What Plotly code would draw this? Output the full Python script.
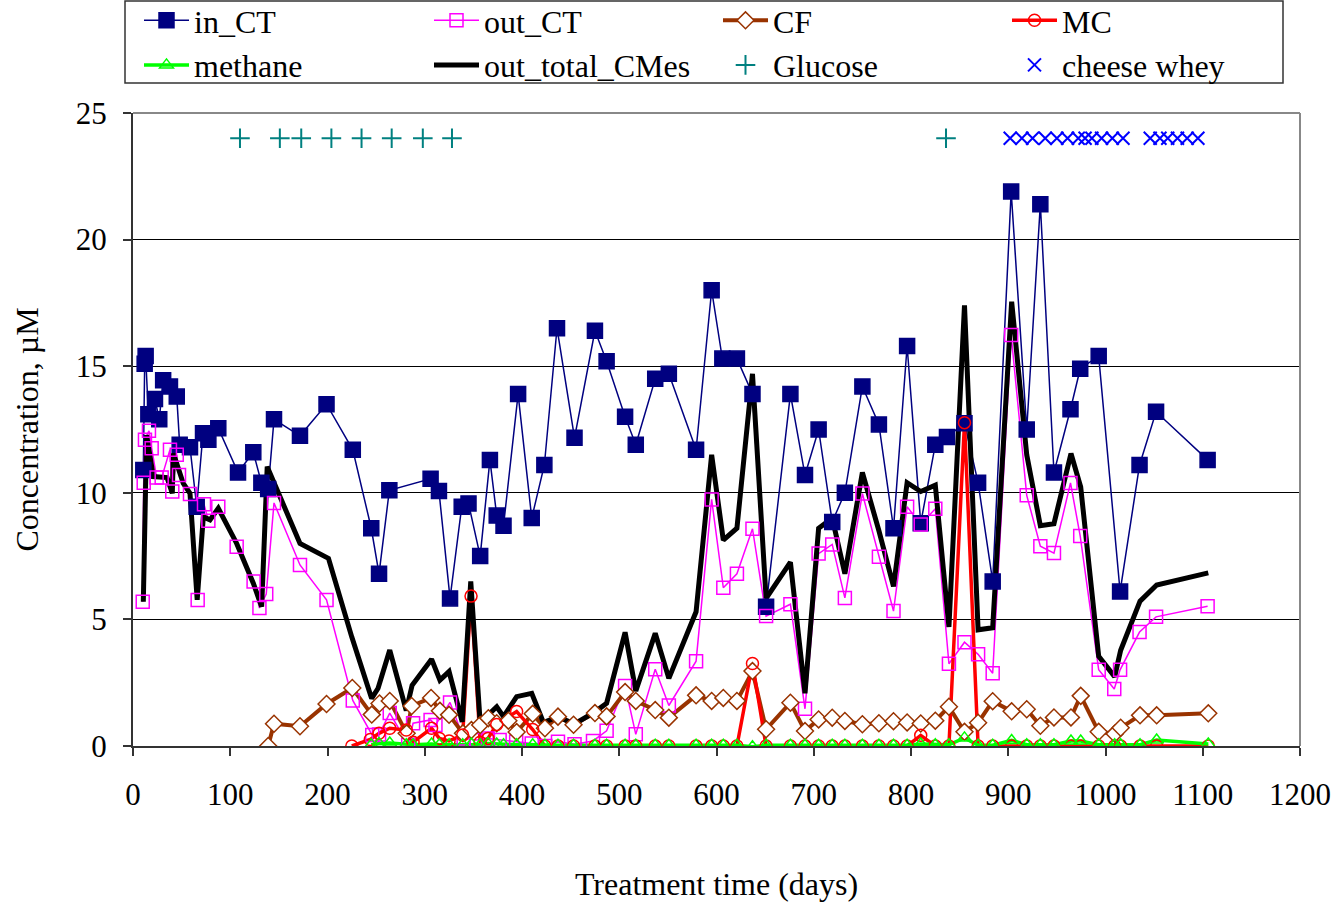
import plotly.graph_objects as go

# ---------------- data ----------------
in_ct_days = [10.6, 12, 13, 15.8, 22.6, 27, 31, 38, 45, 48, 58.6, 65.5, 72, 77.5, 87.7, 108, 123.7, 132, 139, 145,
              171.7, 199, 226, 245, 253, 263.6, 306, 314.6, 326, 338, 345, 357, 367, 374, 381, 396, 410, 423, 436,
              454, 475, 487, 506, 517, 537, 551, 579, 595, 606, 621, 637, 651, 676, 691, 705, 719, 732, 750, 767,
              782, 796, 810, 825, 837, 855, 869, 884, 903, 919, 933, 947, 964, 974, 993, 1015, 1035, 1052, 1105]
in_ct_vals = [10.9, 15.1, 15.4, 13.1, 13.7, 12.9, 14.45, 14.2, 13.8, 11.9, 11.8, 9.45, 12.35, 12.1, 12.55, 10.8, 11.6,
              10.4, 10.15, 12.9, 12.25, 13.5, 11.7, 8.6, 6.8, 10.1, 10.55, 10.07, 5.83, 9.45, 9.58, 7.5, 11.3, 9.1,
              8.7, 13.9, 9.0, 11.1, 16.5, 12.17, 16.4, 15.2, 13.0, 11.9, 14.5, 14.7, 11.7, 18.0, 15.3, 15.3, 13.9,
              5.5, 13.9, 10.7, 12.5, 8.85, 10.0, 14.2, 12.7, 8.6, 15.8, 8.8, 11.9, 12.2, 12.75, 10.4, 6.5, 21.9,
              12.5, 21.4, 10.8, 13.3, 14.9, 15.4, 6.1, 11.1, 13.2, 11.3]

out_ct_days = [10, 11, 12.3, 16.4, 19.2, 24.3, 29.5, 38, 40.4, 45, 47.3, 58.6, 66.5, 73, 77.5, 87.7, 106.6, 124, 130,
               137, 145, 171.7, 199, 226, 246, 253, 264, 283, 288, 306, 311, 326, 340, 353, 365, 377, 394, 410, 424,
               437, 454, 473, 487, 506, 517, 537, 551, 579, 595, 607, 621, 637, 651, 676, 691, 705, 719, 732, 750,
               767, 782, 796, 810, 825, 839, 855, 869, 884, 903, 919, 933, 947, 964, 974, 993, 1009, 1015, 1035,
               1052, 1105]
out_ct_vals = [5.7, 10.4, 12.1, 12.45, 11.76, 10.6, 10.6, 11.7, 10.05, 11.5, 10.7, 9.95, 5.77, 9.55, 8.9, 9.45, 7.87,
               6.5, 5.45, 6.0, 9.6, 7.15, 5.77, 1.8, 0.43, 0.45, 1.3, 0.05, 0.9, 1.03, 0.83, 1.72, 0.3, 0.24, 0.3,
               0.24, 0.17, 0.1, 0.0, 0.17, 0.07, 0.2, 0.6, 2.37, 0.46, 3.03, 1.6, 3.35, 9.74, 6.25, 6.8, 8.58, 5.13,
               5.6, 1.47, 7.6, 7.96, 5.85, 9.97, 7.47, 5.33, 9.45, 8.75, 9.37, 3.25, 4.1, 3.62, 2.87, 16.23, 9.9,
               7.89, 7.62, 10.39, 8.29, 3.01, 2.25, 3.01, 4.5, 5.1, 5.52]

cf_days = [139, 145, 171.7, 199, 225.5, 245.5, 253.5, 264, 281.4, 286.5, 306.5, 315.6, 325, 339.3, 348, 357, 365.4,
           374, 386, 394.5, 411, 423.6, 437, 453, 475, 487, 506, 517, 537, 551, 579, 595, 607, 621, 637, 651, 676,
           691, 705, 719, 732, 750, 767, 782, 796, 810, 825, 839, 855, 869, 884, 903.5, 919, 933, 947, 964.5, 974.5,
           993, 1009.4, 1015.6, 1035.5, 1052.6, 1105.7]
cf_vals = [0.0, 0.88, 0.78, 1.66, 2.29, 1.24, 1.68, 1.78, 0.5, 1.58, 1.9, 1.39, 1.23, 0.5, 0.63, 0.83, 1.1, 0.9, 1.0,
           0.55, 1.27, 0.7, 1.16, 0.84, 1.3, 1.17, 2.13, 1.78, 1.42, 1.12, 2.0, 1.78, 1.9, 1.78, 2.96, 0.66, 1.71,
           0.59, 1.05, 1.12, 0.99, 0.86, 0.9, 0.98, 0.93, 0.89, 1.0, 1.55, 0.56, 0.92, 1.77, 1.37, 1.45, 0.8, 1.13,
           1.13, 1.98, 0.56, 0.48, 0.72, 1.21, 1.21, 1.29]

mc_days = [225, 244, 253, 264, 281, 288, 307, 315, 325, 339, 347.6, 357, 365, 374, 394.5, 411, 423.6, 437, 453, 475,
           487, 506, 517, 537, 551, 579, 595, 607, 621, 637, 651, 676, 691, 705, 719, 732, 750, 767, 782, 796, 810,
           825, 839, 855, 869, 884, 903.5, 919, 933, 947, 964.5, 974.5, 993, 1009.4, 1015.6, 1035.5, 1052.6, 1105.7]
mc_vals = [0.0, 0.26, 0.5, 0.7, 0.63, 0.15, 0.7, 0.3, 0.2, 0.43, 5.92, 0.15, 0.3, 0.85, 1.36, 0.65, 0.0, 0.0, 0.0,
           0.0, 0.0, 0.0, 0.0, 0.0, 0.0, 0.0, 0.0, 0.0, 0.0, 3.26, 0.0, 0.0, 0.0, 0.0, 0.0, 0.0, 0.0, 0.0, 0.0, 0.0,
           0.42, 0.0, 0.0, 12.77, 0.0, 0.0, 0.0, 0.0, 0.0, 0.0, 0.0, 0.0, 0.0, 0.0, 0.0, 0.0, 0.0, 0.0]

methane_days = [245, 253, 264, 281, 288, 307, 315, 325, 339, 348, 357, 365, 374, 381, 394.5, 411, 423.6, 437, 453,
                475, 487, 506, 517, 537, 551, 579, 595, 607, 621, 637, 651, 676, 691, 705, 719, 732, 750, 767, 782,
                796, 810, 825, 839, 855, 869, 884, 903.5, 919, 933, 947, 964.5, 974.5, 993, 1009.4, 1015.6, 1035.5,
                1052.6, 1105.7]
methane_vals = [0.05, 0.1, 0.12, 0.05, 0.05, 0.08, 0.05, 0.05, 0.05, 0.08, 0.05, 0.1, 0.08, 0.05, 0.05, 0.05, 0.03,
                0.03, 0.03, 0.03, 0.03, 0.03, 0.03, 0.03, 0.03, 0.03, 0.03, 0.03, 0.03, -0.03, 0.03, 0.03, 0.03, 0.03,
                0.03, 0.03, 0.03, 0.03, 0.03, 0.03, 0.08, 0.05, 0.05, 0.32, 0.03, 0.03, 0.22, 0.05, 0.05, 0.05, 0.2,
                0.2, 0.05, 0.05, 0.05, 0.05, 0.24, 0.08]

total_days = [10.6, 14, 20.9, 27.7, 35, 40.4, 41.5, 51.7, 58.6, 66, 72.3, 79.2, 87.7, 106.6, 123.7, 132.3, 138,
              171.7, 201, 225, 245.4, 252, 264, 281, 287, 307, 315.6, 325, 338.5, 347.3, 356.8, 367, 374, 381,
              394.5, 410, 422, 437, 454, 475, 487, 506, 517, 537, 551, 579, 595, 607, 621, 637, 651, 676, 691, 705,
              719, 732, 750, 767, 782, 796, 810, 825, 839, 855, 869, 884, 903.5, 919, 933, 947, 964.5, 974.5, 993,
              1009.4, 1015.6, 1035.5, 1052.6, 1105.7]
total_vals = [5.7, 12.28, 10.64, 10.64, 10.6, 9.98, 11.56, 10.37, 9.98, 5.77, 9.05, 8.93, 9.39, 8.0, 6.43, 5.5, 11.03,
              8.0, 7.41, 4.3, 1.88, 2.28, 3.79, 1.4, 2.4, 3.43, 2.6, 2.94, 0.95, 6.5, 1.03, 1.29, 1.55, 1.16, 1.95,
              2.08, 0.93, 1.16, 0.87, 1.35, 1.69, 4.49, 2.17, 4.45, 2.67, 5.3, 11.5, 8.13, 8.6, 14.7, 5.83, 7.26,
              2.08, 8.6, 9.0, 6.8, 10.8, 8.5, 6.3, 10.4, 10.05, 10.3, 4.7, 17.4, 4.59, 4.67, 17.55, 11.5, 8.7, 8.78,
              11.55, 10.23, 3.54, 2.74, 3.78, 5.72, 6.36, 6.84]

glucose_days = [110, 151, 173, 204, 235, 266, 298, 328, 836]
glucose_level = 24
whey_days = [902, 914, 925, 938, 950, 961, 972, 979, 986, 996, 1007, 1018, 1046, 1056, 1064, 1074, 1084, 1095]
whey_level = 24

x_ticks = [0, 100, 200, 300, 400, 500, 600, 700, 800, 900, 1000, 1100, 1200]
y_ticks = [0, 5, 10, 15, 20, 25]

# ---------------- styles ----------------
FONT = "Liberation Serif"
series = [
    # name, days, vals, color, line width, symbol, msize, fill, legend
    ("in_CT", in_ct_days, in_ct_vals, "#000080", 1.5, "square", 15, "#000080", "legend"),
    ("out_CT", out_ct_days, out_ct_vals, "#FF00FF", 1.5, "square-open", 13, None, "legend2"),
    ("CF", cf_days, cf_vals, "#993300", 4, "diamond", 13, "white", "legend3"),
    ("MC", mc_days, mc_vals, "#FF0000", 3.5, "circle", 12, "rgba(0,0,0,0)", "legend4"),
    ("methane", methane_days, methane_vals, "#00FF00", 3.5, "triangle-up", 12, "rgba(0,0,0,0)", "legend"),
]

fig = go.Figure()

# lines first (all lines below all markers)
for name, d, v, col, lw, sym, ms, fill, lg in series:
    fig.add_trace(go.Scatter(x=d, y=v, mode="lines", line=dict(color=col, width=lw),
                             showlegend=False, hoverinfo="skip"))
fig.add_trace(go.Scatter(x=total_days, y=total_vals, mode="lines",
                         line=dict(color="black", width=5), showlegend=False))

for name, d, v, col, lw, sym, ms, fill, lg in series:
    if fill is None:
        mk = dict(symbol=sym, size=ms, color=col, line=dict(color=col, width=1.5))
    else:
        mk = dict(symbol=sym, size=ms, color=fill, line=dict(color=col, width=1.5))
    fig.add_trace(go.Scatter(x=d, y=v, mode="markers", marker=mk, showlegend=False))

fig.add_trace(go.Scatter(x=glucose_days, y=[glucose_level] * len(glucose_days), mode="markers",
                         marker=dict(symbol="cross-thin", size=14, line=dict(color="#008080", width=2)),
                         showlegend=False))
fig.add_trace(go.Scatter(x=whey_days, y=[whey_level] * len(whey_days), mode="markers",
                         marker=dict(symbol="x-thin", size=13, line=dict(color="#0000FF", width=2)),
                         showlegend=False))

# legend dummies
def legend_entry(name, col, lw, sym, ms, fill, lg, mode="lines+markers"):
    if fill is None:
        mk = dict(symbol=sym, size=ms, color=col, line=dict(color=col, width=1.5))
    else:
        mk = dict(symbol=sym, size=ms, color=fill, line=dict(color=col, width=1.5))
    fig.add_trace(go.Scatter(x=[None], y=[None], name=name, mode=mode,
                             line=dict(color=col, width=lw), marker=mk, legend=lg, legendgroup=name))

s = {x[0]: x for x in series}
legend_entry("in_CT", *s["in_CT"][3:])
legend_entry("methane", *s["methane"][3:])
legend_entry("out_CT", *s["out_CT"][3:])
fig.add_trace(go.Scatter(x=[None], y=[None], name="out_total_CMes", mode="lines",
                         line=dict(color="black", width=5), legend="legend2", legendgroup="tot"))
legend_entry("CF", *s["CF"][3:])
fig.add_trace(go.Scatter(x=[None], y=[None], name="Glucose", mode="markers",
                         marker=dict(symbol="cross-thin", size=14, line=dict(color="#008080", width=2)),
                         legend="legend3", legendgroup="glu"))
legend_entry("MC", *s["MC"][3:])
fig.add_trace(go.Scatter(x=[None], y=[None], name="cheese whey", mode="markers",
                         marker=dict(symbol="x-thin", size=13, line=dict(color="#0000FF", width=2)),
                         legend="legend4", legendgroup="whey"))

W, H = 1339, 906
L, R, T, B = 133, 39, 113, 160
pw, ph = W - L - R, H - T - B

def px(xp):
    return (xp - L) / pw

def py(yp):
    return (H - B - yp) / ph

leg_common = dict(font=dict(family=FONT, size=32, color="black"), bgcolor="rgba(0,0,0,0)",
                  orientation="v", xanchor="left", yanchor="top", tracegroupgap=0,
                  itemwidth=45, traceorder="grouped")
LEG_TOP = -7
fig.update_layout(
    width=W, height=H,
    margin=dict(l=L, r=R, t=T, b=B, autoexpand=False),
    paper_bgcolor="white", plot_bgcolor="white",
    font=dict(family=FONT, size=31, color="black"),
    legend=dict(x=px(139), y=py(LEG_TOP), **leg_common),
    legend2=dict(x=px(429), y=py(LEG_TOP), **leg_common),
    legend3=dict(x=px(718), y=py(LEG_TOP), **leg_common),
    legend4=dict(x=px(1007), y=py(LEG_TOP), **leg_common),
    xaxis=dict(range=[0, 1200], tickvals=x_ticks, ticks="outside", ticklen=8, tickwidth=1.5,
               tickcolor="#333", showline=True, linecolor="#333", linewidth=2, showgrid=False,
               zeroline=False, tickfont=dict(family=FONT, size=31), ticklabelstandoff=12,
               title=dict(text="Treatment time (days)", font=dict(family=FONT, size=32), standoff=61)),
    yaxis=dict(range=[0, 25], tickvals=y_ticks, ticks="outside", ticklen=8, tickwidth=1.5,
               tickcolor="#333", showline=True, linecolor="#333", linewidth=2, showgrid=True,
               gridcolor="black", gridwidth=1, zeroline=False, tickfont=dict(family=FONT, size=31),
               ticklabelstandoff=10,
               title=dict(text="Concentration, µM", font=dict(family=FONT, size=32), standoff=28)),
    shapes=[
        dict(type="rect", xref="paper", yref="paper", x0=px(125), x1=px(1283), y0=py(83), y1=py(1),
             line=dict(color="#333", width=1.5), fillcolor="rgba(0,0,0,0)", layer="above"),
        dict(type="line", xref="paper", yref="paper", x0=0, x1=1, y0=1, y1=1,
             line=dict(color="#888", width=2)),
        dict(type="line", xref="paper", yref="paper", x0=1, x1=1, y0=0, y1=1,
             line=dict(color="#888", width=2)),
    ],
)

fig.write_html("out.html")
